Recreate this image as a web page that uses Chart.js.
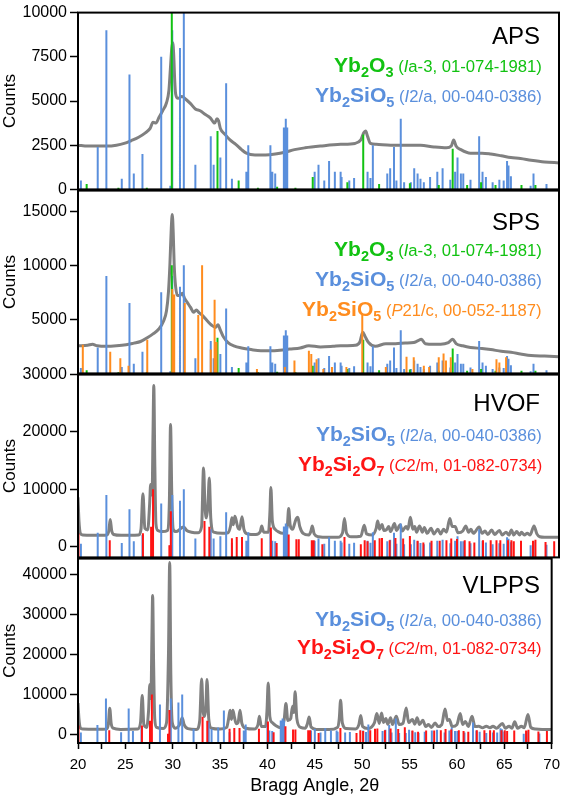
<!DOCTYPE html>
<html>
<head>
<meta charset="utf-8">
<script src="https://cdn.jsdelivr.net/npm/chart.js@4.4.0/dist/chart.umd.min.js"></script>
<style>
  body { margin: 0; background: #fff; width: 567px; height: 797px; position: relative; overflow: hidden; }
  .panel { position: absolute; left: 0; width: 567px; }
</style>
</head>
<body>
<div class="panel" style="top:0px;height:202px"><canvas id="aps"></canvas></div>
<div class="panel" style="top:178px;height:208px"><canvas id="sps"></canvas></div>
<div class="panel" style="top:362px;height:208px"><canvas id="hvof"></canvas></div>
<div class="panel" style="top:546px;height:251px"><canvas id="vlpps"></canvas></div>
<script>
// measured scans, [2theta, counts]
var apsScan = [[20,2500],[21,2450],[22,2450],[23,2450],[24,2500],[24.8,2600],[25.5,2750],[26.3,2950],[27,3200],[27.5,3450],
  [27.8,3800],[28.1,3750],[28.4,4050],[28.8,4450],[29.2,4900],[29.45,5600],[29.6,6800],[29.75,8000],[29.85,8300],[29.95,7600],
  [30.05,6200],[30.15,5400],[30.4,5150],[30.8,5250],[31.2,5100],[31.7,4850],[32.2,4550],[32.7,4450],[33.2,4250],[33.75,4050],
  [34.2,3750],[34.45,4000],[34.6,3900],[34.8,3450],[35.3,3100],[35.8,2800],[36.4,2550],[37,2250],[37.5,2050],[38.4,1950],
  [39.5,1950],[40.5,2000],[41.5,2100],[42.5,2250],[43.6,2350],[45.2,2450],[47.3,2550],[48.8,2600],[49.4,2800],[49.7,3200],
  [49.9,3300],[50.1,3000],[50.4,2600],[51,2550],[52.5,2500],[54,2500],[55.6,2500],[57,2400],[58.3,2350],[58.8,2450],
  [59.05,2800],[59.3,2450],[59.8,2250],[60.8,2050],[62,2050],[62.9,2000],[64,1900],[65,1800],[66,1750],[67.1,1650],
  [68.5,1550],[70,1500]];

var spsScan = [[20,2550],[21,2600],[21.5,2700],[22,2550],[23,2500],[24,2550],[25,2650],[25.8,2800],[26.5,2950],[27.2,3300],
  [27.8,3650],[28.4,4100],[28.9,4850],[29.2,5800],[29.4,7500],[29.55,10000],[29.7,13500],[29.8,14700],[29.9,13000],[30,10000],
  [30.15,8000],[30.35,7200],[30.6,7200],[30.85,7400],[31.1,6900],[31.4,6500],[31.7,6100],[32,5650],[32.3,5850],[32.6,5600],
  [33,5300],[33.5,4800],[33.9,4450],[34.3,4250],[34.55,4500],[34.8,4000],[35.1,3400],[35.6,2850],[36.2,2550],[37,2350],
  [38,2200],[39,2100],[40,2100],[41,2150],[42,2250],[43.1,2350],[44,2550],[45.2,2450],[46.5,2500],[47.3,2550],
  [48.8,2600],[49.3,2900],[49.6,3800],[49.85,3400],[50.2,2850],[50.9,2500],[52,2750],[53,2750],[54,2800],[54.9,2850],
  [55.3,3000],[55.7,3150],[56.1,2750],[57,2700],[57.7,2700],[58.5,2850],[58.95,3150],[59.3,2750],[60,2550],[60.8,2400],
  [62,2300],[62.9,2200],[64,2050],[65,1950],[66,1800],[67.1,1650],[68.5,1600],[70,1550]];

var hvofScan = [[20,8600],[20.1,4500],[20.25,2300],[20.5,2000],[21.5,1950],[22.5,1950],[23,2000],[23.2,2700],[23.35,4700],[23.5,2800],
  [23.7,2100],[24.5,1950],[25.5,1950],[26.3,2000],[26.55,3000],[26.75,9200],[26.95,3200],[27.25,2900],[27.45,7500],[27.55,10800],
  [27.7,9000],[27.8,20000],[27.88,28100],[27.98,15000],[28.1,4000],[28.3,2800],[28.8,2600],[29.3,2800],[29.5,8000],[29.62,21300],
  [29.75,9000],[29.9,3000],[30.2,2600],[30.6,3000],[30.8,3300],[31,3400],[31.3,2800],[31.8,2500],[32.5,2400],[32.85,3500],
  [33.05,13700],[33.2,7000],[33.35,5000],[33.5,7000],[33.65,11950],[33.8,5000],[34.1,2500],[35,2300],[35.6,2400],[35.85,3500],
  [36,5000],[36.15,3800],[36.3,5300],[36.45,4500],[36.6,3400],[36.8,3000],[37.05,5200],[37.25,3000],[37.6,2200],[38.5,2100],
  [38.95,2600],[39.1,3600],[39.3,2500],[39.8,2500],[39.95,6000],[40.05,10300],[40.2,4500],[40.5,3000],[40.8,2600],[41.3,2300],
  [41.75,3500],[41.9,6650],[42.05,3800],[42.3,3000],[42.55,4200],[42.7,4900],[42.85,5100],[43.05,3500],[43.4,2300],[44,2000],
  [44.2,2600],[44.35,3600],[44.55,2200],[45,1700],[46,1600],[47,1600],[47.5,2400],[47.7,4900],[47.9,2400],[48.4,1700],
  [49.4,1800],[49.75,3700],[50,2200],[50.6,2000],[51,3200],[51.15,4450],[51.35,3000],[51.6,3850],[51.8,2800],[52.1,3000],
  [52.3,3500],[52.5,2600],[52.9,4000],[53.1,2800],[53.5,3800],[53.7,2700],[54.1,3500],[54.3,3000],[54.55,5100],[54.8,3000],
  [55,3500],[55.2,2500],[55.5,3600],[55.8,2500],[56,3300],[56.3,2300],[56.7,3200],[57,2200],[57.4,3000],[57.7,2200],
  [58,3000],[58.3,2500],[58.65,4900],[58.9,3500],[59.2,3500],[59.5,2400],[60,2700],[60.3,3600],[60.6,2500],[60.85,3000],
  [61.1,2300],[61.7,3400],[62,2300],[62.3,2700],[62.6,2100],[63,2900],[63.3,2100],[63.8,2800],[64.1,2000],[64.5,2500],
  [64.8,2000],[65.05,2900],[65.3,2000],[65.6,2600],[65.9,2000],[66.1,2500],[66.4,2000],[66.7,2300],[67,2000],[67.4,3600],
  [67.7,2200],[68,1700],[68.5,1600],[70,1600]];

var vlppsScan = [[20,7900],[20.1,4000],[20.25,1700],[20.5,1400],[22,1350],[23,1400],[23.2,2500],[23.35,6600],[23.5,2800],[23.7,1600],
  [24.5,1300],[26.3,1400],[26.6,3000],[26.78,9800],[26.95,2500],[27.25,1800],[27.45,6000],[27.58,12500],[27.7,9000],[27.8,24000],
  [27.88,34800],[27.98,18000],[28.1,4000],[28.3,1800],[29,1500],[29.35,3000],[29.55,20000],[29.68,43000],[29.8,15000],[29.95,3000],
  [30.3,1600],[30.8,2800],[31,4200],[31.2,2500],[31.6,1500],[32.5,1300],[32.85,3500],[33.05,13900],[33.2,6000],[33.35,4500],
  [33.5,7000],[33.62,13750],[33.8,4000],[34.1,1600],[35,1400],[35.7,1800],[35.9,4000],[36.05,6100],[36.2,3800],[36.35,6100],
  [36.5,4500],[36.7,2700],[36.9,3000],[37.1,6100],[37.3,2800],[37.7,1600],[38.6,1400],[39,2500],[39.15,4600],[39.35,2000],
  [39.8,2000],[39.95,6000],[40.08,12900],[40.25,4500],[40.5,3000],[40.9,2200],[41.4,1700],[41.75,3500],[41.95,7750],[42.15,3500],
  [42.45,4000],[42.65,7100],[42.78,5500],[42.92,10700],[43.1,4000],[43.5,1800],[44,1600],[44.2,2600],[44.4,4400],[44.6,1900],
  [45.2,1300],[46.5,1250],[47.4,1800],[47.58,4000],[47.72,8600],[47.9,3000],[48.3,1500],[49.3,1400],[49.65,2500],[49.85,4800],
  [50.05,2000],[50.6,1500],[51.3,3000],[51.55,5250],[51.8,2800],[52.05,5400],[52.25,3000],[52.5,4000],[52.7,2600],[53,4200],
  [53.2,2500],[53.6,4600],[53.9,2500],[54.3,2800],[54.65,6650],[54.9,3000],[55.3,3800],[55.55,2600],[55.8,4200],[56.05,2500],
  [56.4,3600],[56.7,2000],[57,2500],[57.3,1800],[57.7,2900],[58,2000],[58.4,2500],[58.75,6400],[59,3500],[59.2,3800],
  [59.5,2000],[60,2500],[60.35,5250],[60.6,2500],[60.9,3300],[61.2,2000],[61.6,4600],[61.9,2000],[62.3,2100],[62.7,1700],
  [63.1,2100],[63.5,1700],[63.8,2100],[64.2,1600],[64.8,2800],[65.1,1600],[65.5,2100],[65.8,1600],[66.1,3200],[66.4,1600],
  [66.8,2100],[67.1,1700],[67.5,5000],[67.8,1800],[68.3,1400],[69,1300],[70,1250]];

// reference patterns, [2theta, intensity]
var yb2sio5I2a = [[20.3,500],[22.05,2400],[22.95,9000],[24.55,600],[25.35,6500],[25.8,900],[26.7,2000],[28.65,7500],[29.6,200],[29.8,9000],
  [30.6,8000],[31,10000],[32.2,1400],[33.8,3000],[34.1,1400],[34.8,1800],[35.4,6000],[36,600],[37.5,1000],[37.7,2500],
  [40,2500],[40.2,1000],[40.5,900],[41.4,3500],[41.6,4000],[41.75,3500],[44.6,1000],[45,1400],[45.6,500],[46.1,1600],
  [46.7,1000],[47.3,1000],[47.4,700],[48.2,500],[48.7,650],[50.1,1000],[50.4,650],[50.65,2500],[52.15,900],[52.45,1200],
  [52.85,2400],[53.1,500],[53.55,4000],[53.9,400],[54.6,400],[54.95,1200],[55.3,900],[55.6,600],[55.95,400],[56.6,700],
  [57.35,1000],[57.9,1200],[58.7,550],[59.2,1000],[59.45,1800],[59.8,900],[60.05,900],[60.8,550],[61.7,3000],[62.05,1000],
  [62.4,700],[63.1,400],[63.8,550],[64.25,500],[64.6,1600],[64.75,1350],[65,750],[67.05,200],[67.35,900],[68.7,300]];

var yb2o3 = [[20.9,300],[24.2,100],[27.15,100],[29.75,10000],[34.5,3300],[36.7,500],[38.7,100],[40.7,150],[42.6,100],[44.4,700],
  [48,400],[49.65,3100],[51.3,300],[54.5,350],[57.5,250],[58.95,2300],[60.45,250],[61.9,400],[63.4,250],[66.1,250],[67.55,250]];

var yb2sio5P21c = [[20.5,2650],[23.35,2000],[24.4,1400],[25.25,700],[27.2,3100],[29.8,7800],[30,7300],[31.1,6500],[32.5,5400],[32.9,10000],
  [33.8,2200],[34.2,6800],[34.4,2900],[38.6,400],[41.5,600],[42.5,1200],[44,2100],[44.25,1800],[44.8,1300],[45.5,400],
  [46.4,600],[47.9,600],[49.55,5500],[52,600],[54.15,1550],[54.9,1500],[55.95,700],[56.5,600],[57.5,1500],[58,1850],
  [58.25,1200],[58.75,1500],[61,400],[63.5,1300],[63.8,1000],[64.5,1500]];

var yb2si2o7 = [[20.05,2250],[23.3,1100],[26.75,2300],[27.6,3450],[27.8,10000],[29.5,200],[29.65,6150],[33.15,4450],[33.65,3450],[36,1450],
  [36.5,1650],[37.05,1650],[39.1,1450],[40.05,3300],[40.65,600],[41.9,2100],[42.7,1250],[42.95,1250],[44.3,1100],[44.5,1100],
  [45.4,400],[47.7,1650],[49.4,400],[49.8,1100],[50.1,900],[50.85,1100],[51.35,1450],[51.6,1500],[52.4,1100],[53,1500],
  [53.8,1400],[54.5,1850],[55.3,1000],[55.9,700],[56.75,1000],[57.6,1000],[58.3,1100],[58.8,1400],[59.4,1300],[60.2,1100],
  [60.7,900],[61.2,700],[62.1,1100],[62.9,1100],[63.5,1100],[63.9,1100],[64.7,1100],[65.05,1100],[65.3,900],[66.05,1000],
  [67.3,1000],[67.55,1200],[68.6,800],[69.5,900]];

// tick values
var thetaTicks = [20,22.5,25,27.5,30,32.5,35,37.5,40,42.5,45,47.5,50,52.5,55,57.5,60,62.5,65,67.5,70];
var apsTicks = [0,2500,5000,7500,10000];
var spsTicks = [5000,10000,15000];
var hvofTicks = [0,10000,20000,30000];
var vlppsTicks = [0,10000,20000,30000,40000];

var FAMILY = "'Liberation Sans', Arial, sans-serif";
var GREEN = '#12c212', BLUE = '#5a8fdc', ORANGE = '#ff8c1e', RED = '#ff1414';

var greenLabel = [['Yb','b'],['2','s'],['O','b'],['3','s'],[' (',''],['I','i'],['a-3, 01-074-1981)','']];
var blueLabel = [['Yb','b'],['2','s'],['SiO','b'],['5','s'],[' (',''],['I','i'],['2/a, 00-040-0386)','']];
var orangeLabel = [['Yb','b'],['2','s'],['SiO','b'],['5','s'],[' (',''],['P','i'],['21/c, 00-052-1187)','']];
var redLabel = [['Yb','b'],['2','s'],['Si','b'],['2','s'],['O','b'],['7','s'],[' (',''],['C','i'],['2/m, 01-082-0734)','']];

Chart.defaults.font.family = FAMILY;
Chart.defaults.color = '#000';

function sticks(list, base) {
  var pts = [];
  list.forEach(function (s) {
    pts.push({x: s[0], y: base}, {x: s[0], y: s[1]}, {x: s[0], y: null});
  });
  return pts;
}

function fontOf(kind, k) {
  if (kind === 'b') return 'bold ' + (19 * k).toFixed(1) + 'px ' + FAMILY;
  if (kind === 's') return 'bold ' + (13 * k).toFixed(1) + 'px ' + FAMILY;
  if (kind === 'i') return 'italic ' + (15 * k).toFixed(1) + 'px ' + FAMILY;
  return (15 * k).toFixed(1) + 'px ' + FAMILY;
}

var frame = {
  id: 'frame',
  afterDraw: function (chart) {
    var a = chart.chartArea, ctx = chart.ctx;
    ctx.save();
    ctx.strokeStyle = '#000';
    ctx.lineWidth = 2;
    ctx.strokeRect(a.left, a.top, a.right - a.left, a.bottom - a.top);
    ctx.restore();
  }
};

// panel name + phase lines, right aligned; font scaled so the line spans from row.left to 542
function labels(p) {
  return {
    id: 'labels',
    afterDraw: function (chart) {
      var ctx = chart.ctx, top = chart.chartArea.top;
      ctx.save();
      ctx.textBaseline = 'alphabetic';
      ctx.fillStyle = '#000';
      ctx.font = '24px ' + FAMILY;
      ctx.textAlign = 'right';
      ctx.fillText(p.name, 540, top + p.nameY);
      ctx.textAlign = 'left';
      p.rows.forEach(function (row) {
        var w = 0;
        row.parts.forEach(function (s) { ctx.font = fontOf(s[1], 1); w += ctx.measureText(s[0]).width; });
        var k = (542 - row.left) / w;
        var x = row.left;
        ctx.fillStyle = row.color;
        row.parts.forEach(function (s) {
          ctx.font = fontOf(s[1], k);
          ctx.fillText(s[0], x, top + row.y + (s[1] === 's' ? 5 * k : 0));
          x += ctx.measureText(s[0]).width;
        });
      });
      ctx.restore();
    }
  };
}

function panel(id, p) {
  var datasets = [];
  p.refs.forEach(function (r, i) {
    datasets.push({
      data: sticks(r.list, p.ymin),
      borderColor: r.color,
      borderWidth: 2,
      pointRadius: 0,
      spanGaps: false,
      order: p.refs.length - i
    });
  });
  datasets.push({
    data: p.scan.map(function (d) { return {x: d[0], y: d[1]}; }),
    borderColor: '#808080',
    borderWidth: 3,
    pointRadius: 0,
    cubicInterpolationMode: 'monotone',
    order: 20
  });

  new Chart(document.getElementById(id), {
    type: 'line',
    data: {datasets: datasets},
    options: {
      responsive: true,
      maintainAspectRatio: false,
      animation: false,
      layout: {padding: {left: 0, right: 8, top: p.padTop, bottom: p.bottomAxis ? 0 : 12}, autoPadding: false},
      plugins: {legend: {display: false}, tooltip: {enabled: false}},
      scales: {
        x: {
          type: 'linear',
          min: 20,
          max: 70,
          display: p.bottomAxis,
          afterFit: function (s) { s.height = p.bottomAxis ? 54 : 0; },
          afterBuildTicks: function (s) { s.ticks = thetaTicks.map(function (v) { return {value: v}; }); },
          ticks: {
            font: {size: 15},
            padding: 7,
            maxRotation: 0,
            autoSkip: false,
            callback: function (v) { return v % 5 === 0 ? String(v) : ''; }
          },
          grid: {drawOnChartArea: false, tickLength: 6, tickColor: '#000', tickWidth: 1.5},
          border: {display: false},
          title: {display: true, text: 'Bragg Angle, 2θ', font: {size: 18}, padding: 0}
        },
        y: {
          min: p.ymin,
          max: p.ymax,
          afterFit: function (s) { s.width = 78; },
          afterBuildTicks: function (s) { s.ticks = p.ticks.map(function (v) { return {value: v}; }); },
          ticks: {font: {size: 16}, padding: 3, callback: function (v) { return String(v); }},
          grid: {drawOnChartArea: false, tickLength: 8, tickColor: '#000', tickWidth: 1.5},
          border: {display: false},
          title: {display: true, text: 'Counts', font: {size: 17}, padding: 0}
        }
      }
    },
    plugins: [frame, labels(p)]
  });
}

panel('aps', {
  scan: apsScan, ymin: 0, ymax: 10000, ticks: apsTicks, bottomAxis: false, padTop: 6,
  refs: [{list: yb2sio5I2a, color: BLUE}, {list: yb2o3, color: GREEN}],
  name: 'APS', nameY: 31,
  rows: [{parts: greenLabel, color: GREEN, y: 59, left: 334}, {parts: blueLabel, color: BLUE, y: 89, left: 315}]
});

panel('sps', {
  scan: spsScan, ymin: 0, ymax: 16900, ticks: spsTicks, bottomAxis: false, padTop: 12,
  refs: [{list: yb2sio5I2a, color: BLUE}, {list: yb2o3, color: GREEN}, {list: yb2sio5P21c, color: ORANGE}],
  name: 'SPS', nameY: 39,
  rows: [{parts: greenLabel, color: GREEN, y: 65, left: 334}, {parts: blueLabel, color: BLUE, y: 95, left: 315},
         {parts: orangeLabel, color: ORANGE, y: 125, left: 302}]
});

panel('hvof', {
  scan: hvofScan, ymin: -1900, ymax: 30000, ticks: hvofTicks, bottomAxis: false, padTop: 12,
  refs: [{list: yb2sio5I2a, color: BLUE}, {list: yb2si2o7, color: RED}],
  name: 'HVOF', nameY: 36,
  rows: [{parts: blueLabel, color: BLUE, y: 66, left: 316}, {parts: redLabel, color: RED, y: 96, left: 298}]
});

panel('vlpps', {
  scan: vlppsScan, ymin: -2100, ymax: 44000, ticks: vlppsTicks, bottomAxis: true, padTop: 12,
  refs: [{list: yb2sio5I2a, color: BLUE}, {list: yb2si2o7, color: RED}],
  name: 'VLPPS', nameY: 34,
  rows: [{parts: blueLabel, color: BLUE, y: 67, left: 315}, {parts: redLabel, color: RED, y: 95, left: 297}]
});
</script>
</body>
</html>
